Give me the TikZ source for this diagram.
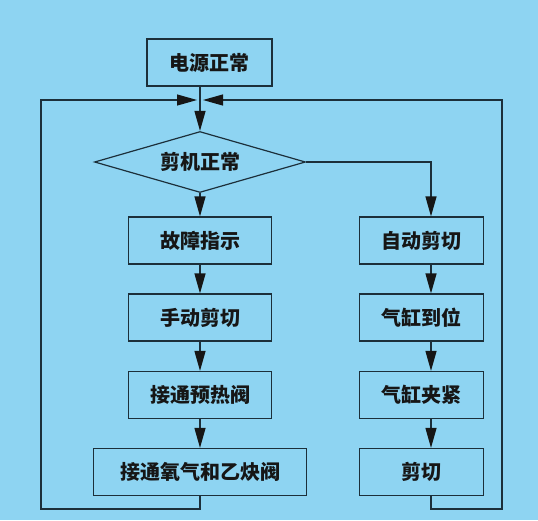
\documentclass[tikz,border=0pt]{standalone}
\usepackage{fontspec}
\usepackage{xcolor}
\usetikzlibrary{shapes.geometric,arrows.meta}
\newfontfamily\cjk{Noto Sans CJK SC}
\definecolor{bgblue}{HTML}{8ED4F2}
\definecolor{linec}{HTML}{1C2F3A}
\definecolor{txtc}{HTML}{161616}

\begin{document}
\begin{tikzpicture}[x=1pt,y=-1pt,
  box/.style={draw=linec,line width=1.2pt,inner sep=0pt,minimum width=143pt,minimum height=47pt,font=\cjk\bfseries\fontsize{20}{22}\selectfont,text=txtc},
  dec/.style={diamond,draw=linec,line width=1.2pt,inner sep=0pt,aspect=3.4,minimum width=211pt,minimum height=61pt,font=\cjk\bfseries\fontsize{20}{22}\selectfont,text=txtc},
  arr/.style={draw=linec,line width=1.2pt,-{Triangle[length=20pt,width=11pt,color=txtc]}},
  ln/.style={draw=linec,line width=1.2pt}]
\fill[bgblue] (0,0) rectangle (538,520);
\useasboundingbox (0,0) rectangle (538,520);
\node[box,minimum width=125pt] (power) at (209.5,62.5) {电源正常};
\node[dec] (check) at (200,162) {剪机正常};
\node[box] (fault) at (200,240.5) {故障指示};
\node[box] (manual) at (200,317.5) {手动剪切};
\node[box] (preheat) at (200,395) {接通预热阀};
\node[box,minimum width=213pt] (gas) at (200,472) {接通氧气和乙炔阀};
\node[box,minimum width=124pt] (auto) at (421.5,240.5) {自动剪切};
\node[box,minimum width=124pt] (reach) at (421.5,317.5) {气缸到位};
\node[box,minimum width=124pt] (clamp) at (421.5,395) {气缸夹紧};
\node[box,minimum width=124pt] (cut) at (421.5,472) {剪切};
\coordinate (jn) at (200,100);
\coordinate (rc) at (431,0);
\coordinate (lb) at (41,509);
\coordinate (rb) at (502,509);
\draw[ln] (power.south -| jn) -- (jn);
\draw[arr] (jn) -- (check.north);
\draw[arr] (check.south) -- (fault.north);
\draw[arr] (fault) -- (manual);
\draw[arr] (manual) -- (preheat);
\draw[arr] (preheat) -- (gas);
\draw[arr] (check.east) -| (auto.north -| rc);
\draw[arr] (auto.south -| rc) -- (reach.north -| rc);
\draw[arr] (reach.south -| rc) -- (clamp.north -| rc);
\draw[arr] (clamp.south -| rc) -- (cut.north -| rc);
\draw[arr] (gas.south) |- (lb) |- ([xshift=-3pt]jn);
\draw[arr] (cut.south -| rc) |- (rb) |- ([xshift=3pt]jn);
\end{tikzpicture}
\end{document}
